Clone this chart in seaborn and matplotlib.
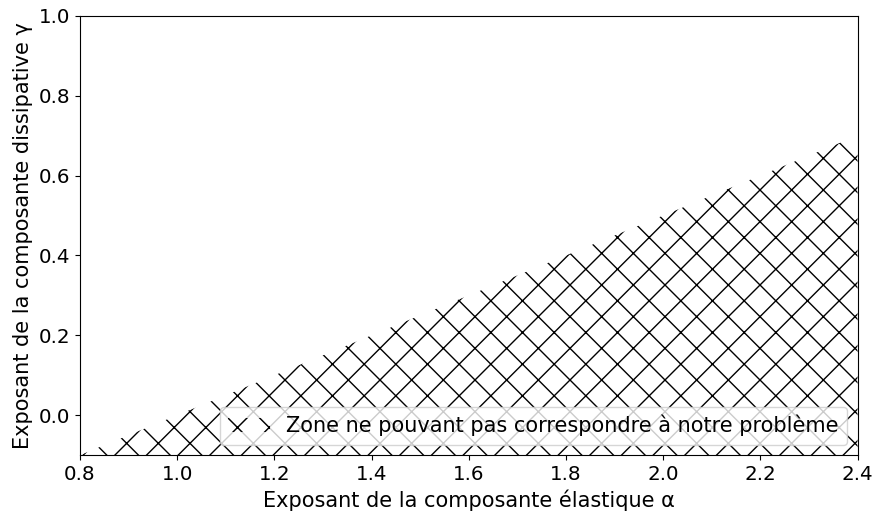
import numpy as np
import matplotlib
matplotlib.use("Agg")
import matplotlib.pyplot as plt
import seaborn as sns

# Boundary of the excluded zone: gamma <= (alpha - 1) / 2
alpha_bounds = [0.8, 2.4]
gamma_upper = [-0.1, 0.7]
gamma_floor = -0.1

x_ticks = [0.8, 1.0, 1.2, 1.4, 1.6, 1.8, 2.0, 2.2, 2.4]
y_ticks = [0.0, 0.2, 0.4, 0.6, 0.8, 1.0]

zone_label = "Zone ne pouvant pas correspondre à notre problème"
x_label = "Exposant de la composante élastique α"
y_label = "Exposant de la composante dissipative γ"

DPI = 95
S = 100 / DPI  # keeps text/lines at their usual on-screen size

sns.set_theme(style="ticks", rc={
    "axes.edgecolor": "black",
    "axes.labelcolor": "black",
    "text.color": "black",
    "axes.linewidth": 0.8 * S,
    "xtick.color": "black",
    "ytick.color": "black",
    "xtick.major.size": 3.5 * S,
    "ytick.major.size": 3.5 * S,
    "xtick.major.width": 0.8 * S,
    "ytick.major.width": 0.8 * S,
    "xtick.major.pad": 3.5 * S,
    "ytick.major.pad": 3.5 * S,
    "axes.labelpad": 4.0 * S,
    "hatch.linewidth": 1.0 * S,
    "legend.frameon": True,
})
plt.rcParams["font.family"] = ["DejaVu Sans"]
TICK_FS = 14.3 * S
LABEL_FS = 15 * S
LEGEND_FS = 15 * S

fig = plt.figure(figsize=(875 / DPI, 512 / DPI), dpi=DPI)
ax = fig.add_axes([0.0914, 0.111, 0.9886 - 0.0914 - 0.0086, 0.969 - 0.111])

x = np.array(alpha_bounds)
y = np.array(gamma_upper)
ax.fill_between(x, gamma_floor, y, facecolor="none", edgecolor="black",
                hatch="x", linewidth=0, label=zone_label)

ax.set_xlim(alpha_bounds[0], alpha_bounds[1])
ax.set_ylim(gamma_floor, 1.0)
ax.set_xticks(x_ticks)
ax.set_yticks(y_ticks)
ax.set_xticklabels([f"{v:.1f}" for v in x_ticks], fontsize=TICK_FS)
ax.set_yticklabels([f"{v:.1f}" for v in y_ticks], fontsize=TICK_FS)
ax.set_xlabel(x_label, fontsize=LABEL_FS, color="black")
ax.set_ylabel(y_label, fontsize=LABEL_FS, color="black")

leg = ax.legend(loc="lower right", fontsize=LEGEND_FS, fancybox=True,
                framealpha=0.8, edgecolor="0.8", handlelength=2.0)
leg.get_frame().set_linewidth(1.0 * S)
for t in leg.get_texts():
    t.set_color("black")

fig.savefig("out.png", dpi=DPI)
